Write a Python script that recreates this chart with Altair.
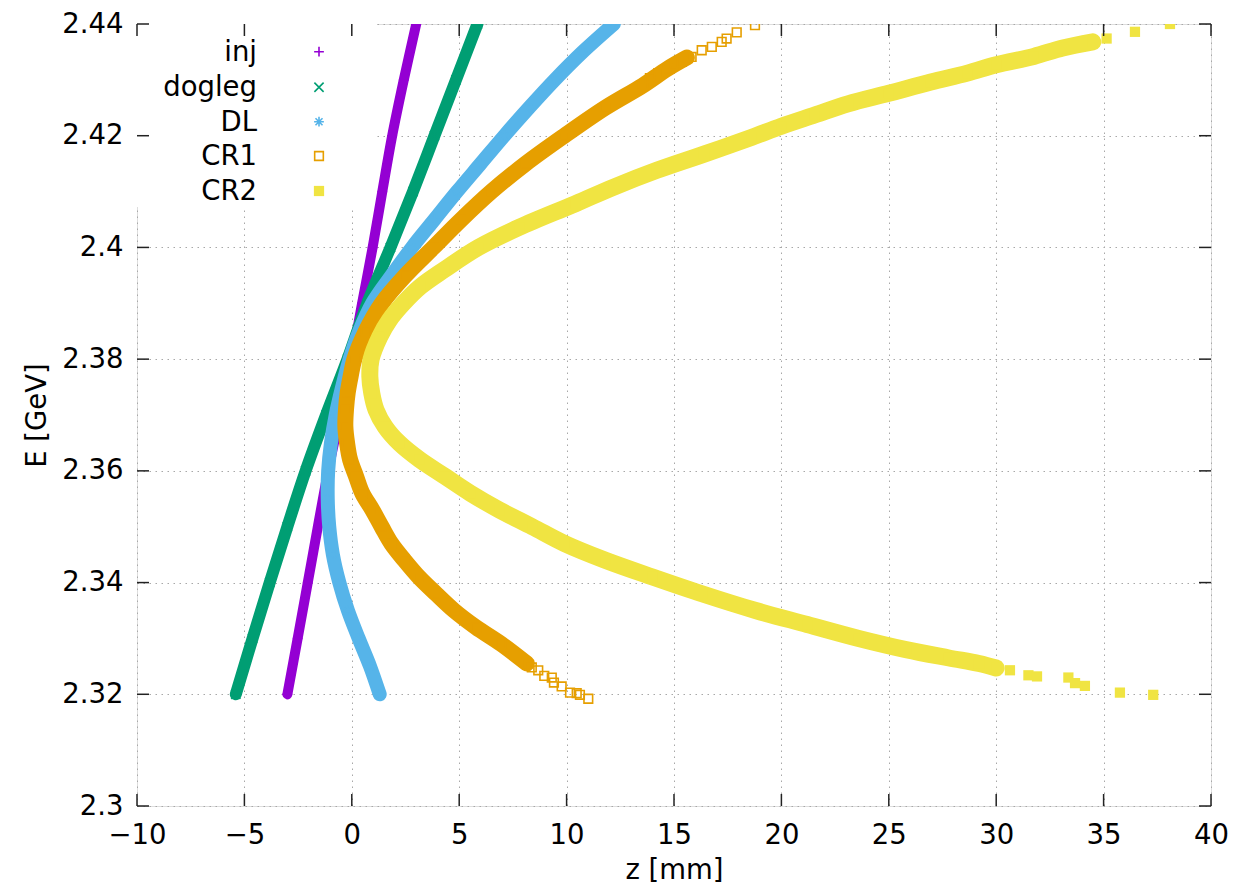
import altair as alt
import pandas as pd

# ---------------- data ----------------
SERIES = ["inj", "dogleg", "DL", "CR1", "CR2"]
COLORS = ["#9400d3", "#009e73", "#56b4e9", "#e69f00", "#f0e442"]

INJ_E = [2.320, 2.330, 2.340, 2.350, 2.360, 2.370, 2.380, 2.390, 2.400, 2.410, 2.420, 2.430, 2.440]
INJ_Z = [-3.00, -2.52, -2.05, -1.58, -1.10, -0.55, 0.00, 0.48, 0.97, 1.42, 1.88, 2.42, 3.00]

DOG_E = [2.320, 2.330, 2.340, 2.350, 2.360, 2.370, 2.380, 2.390, 2.400, 2.410, 2.420, 2.430, 2.440]
DOG_Z = [-5.40, -4.62, -3.82, -3.00, -2.15, -1.20, -0.20, 0.72, 1.80, 2.85, 3.85, 4.85, 5.85]

DL_E = [2.320, 2.325, 2.330, 2.335, 2.340, 2.345, 2.350, 2.355, 2.360, 2.365, 2.370, 2.375,
        2.380, 2.385, 2.390, 2.395, 2.400, 2.405, 2.410, 2.415, 2.420, 2.425, 2.430, 2.435, 2.440]
DL_Z = [1.30, 0.85, 0.32, -0.18, -0.58, -0.88, -1.05, -1.12, -1.10, -0.97, -0.75, -0.45,
        -0.10, 0.35, 0.95, 1.85, 2.80, 3.85, 4.90, 6.00, 7.10, 8.25, 9.45, 10.75, 12.20]

CR1_E = [2.3255, 2.329, 2.332, 2.335, 2.338, 2.341, 2.344, 2.347, 2.350, 2.353, 2.356, 2.359,
         2.362, 2.365, 2.368, 2.371, 2.374, 2.377, 2.380, 2.385, 2.390, 2.395, 2.400, 2.405,
         2.410, 2.415, 2.420, 2.425, 2.429, 2.432, 2.434]
CR1_Z = [8.15, 6.96, 5.78, 4.76, 3.92, 3.12, 2.45, 1.84, 1.39, 0.96, 0.49, 0.20,
         -0.08, -0.22, -0.30, -0.27, -0.19, -0.05, 0.12, 0.65, 1.40, 2.50, 3.80, 5.10,
         6.50, 8.10, 9.90, 11.80, 13.55, 14.70, 15.60]
CR1_TAIL_E = [2.3248, 2.3243, 2.3233, 2.3230, 2.3221, 2.3214, 2.3203, 2.3202, 2.3199, 2.3192,
              2.4291, 2.4303, 2.4312, 2.4327, 2.4332, 2.4341, 2.4353, 2.4359, 2.4368, 2.4374,
              2.4385, 2.4398]
CR1_TAIL_Z = [8.38, 8.68, 8.96, 9.31, 9.41, 9.77, 10.16, 10.47, 10.62, 11.01,
              13.57, 13.88, 14.27, 14.97, 15.36, 15.82, 16.29, 16.76, 17.22, 17.45,
              17.92, 18.77]

CR2_E = [2.3247, 2.3255, 2.3265, 2.328, 2.330, 2.3325, 2.335, 2.338, 2.341, 2.344, 2.347,
         2.350, 2.353, 2.356, 2.359, 2.362, 2.3649, 2.3679, 2.3709, 2.3739, 2.3769,
         2.380, 2.384, 2.387, 2.390, 2.393, 2.396, 2.400, 2.4036, 2.4078, 2.4108, 2.4138,
         2.4167, 2.4197, 2.4217, 2.4237, 2.4257, 2.4276, 2.4296, 2.4312, 2.4327, 2.4342,
         2.4357, 2.4368]
CR2_Z = [30.0, 29.2, 27.8, 25.8, 23.6, 21.2, 18.8, 16.3, 14.0, 11.8, 9.9,
         8.4, 6.87, 5.52, 4.34, 3.16, 2.23, 1.55, 1.13, 0.93, 0.84,
         0.90, 1.30, 1.75, 2.40, 3.20, 4.30, 5.90, 7.80, 10.4, 12.2, 14.2,
         16.4, 18.6, 20.0, 21.55, 23.1, 25.0, 26.96, 28.66, 30.0, 31.75,
         33.1, 34.5]
CR2_TAIL_E = [2.3243, 2.3234, 2.3232, 2.3230, 2.3220, 2.3215, 2.3203, 2.3199,
              2.4374, 2.4386, 2.4400]
CR2_TAIL_Z = [30.64, 31.5, 31.9, 33.36, 33.67, 34.13, 35.76, 37.31,
              35.14, 36.46, 38.09]

X_TICKS = [-10, -5, 0, 5, 10, 15, 20, 25, 30, 35, 40]
Y_TICKS = [2.30, 2.32, 2.34, 2.36, 2.38, 2.40, 2.42, 2.44]

# ---------------- styling ----------------
W, H = 1074, 782
FONT = "DejaVu Sans"
FS = 27.5

PLUS = "M-1,0L1,0M0,-1L0,1"
XSH = "M-1,-1L1,1M-1,1L1,-1"
STAR = "M-1,0L1,0M0,-1L0,1M-0.72,-0.72L0.72,0.72M-0.72,0.72L0.72,-0.72"
SHAPES = [PLUS, XSH, STAR, "square", "square"]
FILLED = [False, False, False, False, True]
PSIZE = [95, 85, 95, 75, 105]
BAND = [10, 12, 14, 16, 17]

x_scale = alt.Scale(domain=[-10, 40], nice=False, zero=False)
y_scale = alt.Scale(domain=[2.30, 2.44], nice=False, zero=False)

x_axis = alt.Axis(values=X_TICKS, format="d", ticks=False, domain=False, grid=True,
                  gridColor="#a8a8a8", gridDash=[1.5, 4.5], gridWidth=1,
                  labelFont=FONT, labelFontSize=FS, labelColor="black", labelPadding=15,
                  labelFlush=False, labelOverlap=False,
                  titleFont=FONT, titleFontSize=FS, titleFontWeight="normal", titleColor="black",
                  titleX=W / 2, titleY=64, titleBaseline="middle")
y_axis = alt.Axis(values=Y_TICKS, format="~g", ticks=False, domain=False, grid=True,
                  gridColor="#a8a8a8", gridDash=[1.5, 4.5], gridWidth=1,
                  labelFont=FONT, labelFontSize=FS, labelColor="black", labelPadding=14,
                  labelFlush=False, labelOverlap=False, labelBaseline="middle",
                  titleFont=FONT, titleFontSize=FS, titleFontWeight="normal", titleColor="black",
                  titleX=-100, titleY=H / 2, titleBaseline="middle", titleAngle=-90)

def X(field):
    return alt.X(field, type="quantitative", scale=x_scale, axis=x_axis, title="z [mm]")

def Y(field):
    return alt.Y(field, type="quantitative", scale=y_scale, axis=y_axis, title="E [GeV]")

layers = []

# opaque key box (hides grid under the key, like gnuplot)
layers.append(
    alt.Chart(pd.DataFrame({"k": [0]})).mark_rect(color="white").encode(
        x=alt.value(0), x2=alt.value(240), y=alt.value(0), y2=alt.value(183))
)

cores = [(INJ_E, INJ_Z, [], []), (DOG_E, DOG_Z, [], []), (DL_E, DL_Z, [], []),
         (CR1_E, CR1_Z, CR1_TAIL_E, CR1_TAIL_Z), (CR2_E, CR2_Z, CR2_TAIL_E, CR2_TAIL_Z)]

LEG_Y = [27.7, 63.3, 97.7, 132.0, 167.0]

for i, name in enumerate(SERIES):
    E, Z, TE, TZ = cores[i]
    core = pd.DataFrame({"E": E, "z": Z})
    allpts = pd.DataFrame({"E": list(E) + list(TE), "z": list(Z) + list(TZ)})
    line = alt.Chart(core).mark_line(
        color=COLORS[i], strokeWidth=BAND[i], strokeCap="round", strokeJoin="round",
        interpolate="catmull-rom", clip=True
    ).encode(x=X("z"), y=Y("E"), order=alt.Order("E:Q"))
    pts = alt.Chart(allpts).mark_point(
        shape=SHAPES[i], filled=FILLED[i], size=PSIZE[i], color=COLORS[i],
        strokeWidth=1.6, opacity=1, clip=True
    ).encode(x=X("z"), y=Y("E"))
    layers += [line, pts]

# key (labels right-aligned, symbol to the right, gnuplot style)
for i, name in enumerate(SERIES):
    kd = pd.DataFrame({"label": [name]})
    layers.append(
        alt.Chart(kd).mark_text(align="right", baseline="middle", font=FONT, fontSize=FS,
                                color="black", dy=1).encode(
            text="label:N", x=alt.value(120), y=alt.value(LEG_Y[i]))
    )
    layers.append(
        alt.Chart(kd).mark_point(shape=SHAPES[i], filled=FILLED[i], size=PSIZE[i],
                                 color=COLORS[i], strokeWidth=1.6, opacity=1).encode(
            x=alt.value(182), y=alt.value(LEG_Y[i]))
    )

# inward ticks on all four sides
xt = pd.DataFrame({"v": X_TICKS})
yt = pd.DataFrame({"v": Y_TICKS})
TC = "#222222"
layers.append(alt.Chart(xt).mark_rule(color=TC, strokeWidth=1.5).encode(
    x=X("v"), y=alt.value(H), y2=alt.value(H - 12)))
layers.append(alt.Chart(xt).mark_rule(color=TC, strokeWidth=1.5).encode(
    x=X("v"), y=alt.value(0), y2=alt.value(12)))
layers.append(alt.Chart(yt).mark_rule(color=TC, strokeWidth=1.5).encode(
    y=Y("v"), x=alt.value(0), x2=alt.value(12)))
layers.append(alt.Chart(yt).mark_rule(color=TC, strokeWidth=1.5).encode(
    y=Y("v"), x=alt.value(W), x2=alt.value(W - 12)))

chart = alt.layer(*layers).properties(
    width=W, height=H,
    autosize=alt.AutoSizeParams(type="none"),
    padding={"left": 129, "top": 16, "right": 19, "bottom": 77},
).configure_view(stroke="#333333", strokeWidth=1.5).configure(background="white")

chart.save("out.html", embed_options={"renderer": "svg", "actions": False})
